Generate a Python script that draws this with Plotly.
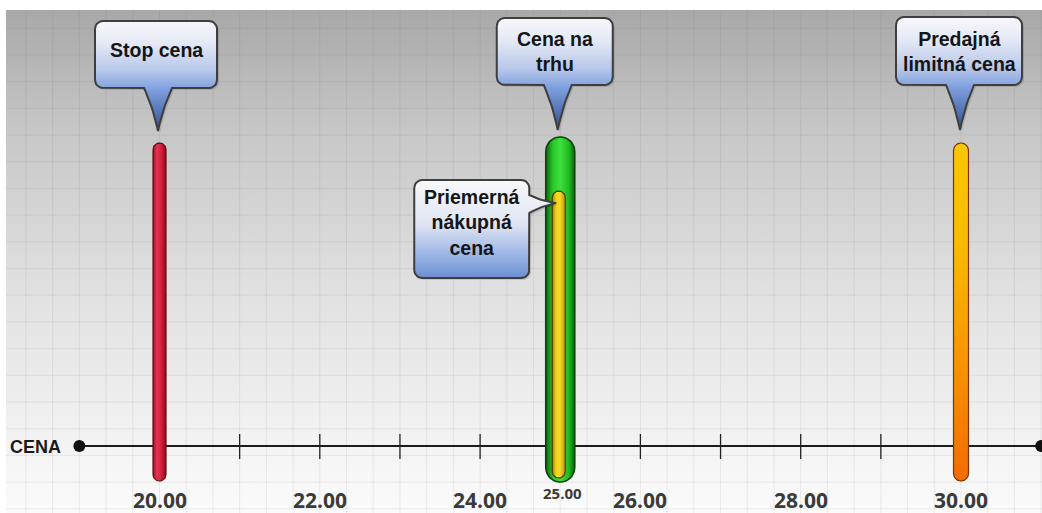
import numpy as np
import plotly.graph_objects as go

# ---------------- data ----------------
axis_title = "CENA"
axis_start, axis_end = 19.0, 31.0
tick_values = [20, 21, 22, 23, 24, 25, 26, 27, 28, 29, 30]
label_values = [20, 22, 24, 26, 28, 30]
label_texts = ["20.00", "22.00", "24.00", "26.00", "28.00", "30.00"]
market_label_value = 25.0
market_label_text = "25.00"

stop_price = 20.0
market_price = 25.0
avg_buy_price = 25.0
sell_limit_price = 30.0

callout_texts = ["Stop cena", "Cena na<br>trhu", "Predajná<br>limitná cena",
                 "Priemerná<br>nákupná<br>cena"]
callout_values = [stop_price, market_price, sell_limit_price, avg_buy_price]

# ---------------- geometry helpers (pixel space) ----------------
W, H = 1042, 513
PPU = 80.15                       # pixels per price unit
X0 = 20 - 159.5 / PPU             # price at left edge of the figure
X1 = X0 + W / PPU


def uy(py):
    return H - py


def xs(value, offsets):
    return [value + o / PPU for o in offsets]


def pill(value, half_w, top, bottom, n=24):
    r = half_w
    tc, bc = top + r, bottom - r
    ox, py = [], []
    for t in np.linspace(np.pi, 0, n):
        ox.append(r * np.cos(t)); py.append(tc - r * np.sin(t))
    for t in np.linspace(0, -np.pi, n):
        ox.append(r * np.cos(t)); py.append(bc - r * np.sin(t))
    ox.append(ox[0]); py.append(py[0])
    return xs(value, ox), [uy(p) for p in py]


def arc(cx, cy, r, a0, a1, n=8):
    pts = []
    for t in np.linspace(a0, a1, n):
        pts.append((cx + r * np.cos(t), cy - r * np.sin(t)))
    return pts


def bez(p0, c, p1, n=14):
    pts = []
    for t in np.linspace(0, 1, n):
        x = (1 - t) ** 2 * p0[0] + 2 * (1 - t) * t * c[0] + t ** 2 * p1[0]
        y = (1 - t) ** 2 * p0[1] + 2 * (1 - t) * t * c[1] + t ** 2 * p1[1]
        pts.append((x, y))
    return pts


def callout_down(x0, x1, y0, y1, tipx, tipy, half_base=14, r=8):
    pts = []
    pts += arc(x0 + r, y0 + r, r, np.pi, np.pi / 2)
    pts += arc(x1 - r, y0 + r, r, np.pi / 2, 0)
    pts += arc(x1 - r, y1 - r, r, 0, -np.pi / 2)
    bx = tipx
    depth = tipy - y1
    pts += bez((bx + half_base, y1), (tipx + 5, y1 + 0.45 * depth), (tipx, tipy))
    pts += bez((tipx, tipy), (tipx - 5, y1 + 0.45 * depth), (bx - half_base, y1))
    pts += arc(x0 + r, y1 - r, r, -np.pi / 2, -np.pi)
    pts.append(pts[0])
    return pts


def callout_right(x0, x1, y0, y1, tipx, tipy, b0, b1, r=8):
    pts = []
    pts += arc(x0 + r, y0 + r, r, np.pi, np.pi / 2)
    pts += arc(x1 - r, y0 + r, r, np.pi / 2, 0)
    pts += bez((x1, b0), (x1 + 12, tipy - 2), (tipx, tipy))
    pts += bez((tipx, tipy), (x1 + 12, tipy + 3), (x1, b1))
    pts += arc(x1 - r, y1 - r, r, 0, -np.pi / 2)
    pts += arc(x0 + r, y1 - r, r, -np.pi / 2, -np.pi)
    pts.append(pts[0])
    return pts


fig = go.Figure()

# ---------------- background ----------------
fig.add_trace(go.Scatter(
    x=[X0 + 6 / PPU, X1, X1, X0 + 6 / PPU, X0 + 6 / PPU],
    y=[uy(10), uy(10), 0, 0, uy(10)],
    mode="lines", line=dict(width=0), fill="toself",
    fillgradient=dict(type="vertical", colorscale=[
        [0, "#fbfbfb"], [0.15, "#f2f2f2"], [0.45, "#e0e0e0"],
        [0.75, "#c8c8c8"], [1, "#a8a8a8"]]),
    hoverinfo="skip"))

# grid
gx, gy = [], []
for k in np.arange(-18, 40):
    v = 20 + k / 3
    if X0 + 6 / PPU < v < X1:
        gx += [v, v, None]; gy += [uy(10), 0, None]
for p in np.arange(1.5 + 26.7, H, 26.7):
    gx += [X0 + 6 / PPU, X1, None]; gy += [uy(p), uy(p), None]
fig.add_trace(go.Scatter(x=gx, y=gy, mode="lines",
                         line=dict(color="rgba(100,100,100,0.10)", width=1),
                         hoverinfo="skip"))

# ---------------- axis ----------------
fig.add_trace(go.Scatter(x=[axis_start, axis_end], y=[uy(446), uy(446)],
                         mode="lines+markers",
                         line=dict(color="#1c1c1c", width=2),
                         marker=dict(color="#111111", size=12),
                         hoverinfo="skip"))
tx, ty = [], []
for v in tick_values:
    tx += [v, v, None]; ty += [uy(434), uy(459), None]
fig.add_trace(go.Scatter(x=tx, y=ty, mode="lines",
                         line=dict(color="#222222", width=1.3), hoverinfo="skip"))

# ---------------- bars ----------------
def add_pill(value, half_w, top, bottom, grad, line_color, lw=1.2):
    x, y = pill(value, half_w, top, bottom)
    fig.add_trace(go.Scatter(x=x, y=y, mode="lines", fill="toself",
                             line=dict(color=line_color, width=lw),
                             fillgradient=grad, hoverinfo="skip"))


add_pill(stop_price, 6.5, 143, 481,
         dict(type="horizontal", colorscale=[[0, "#9a1126"], [0.3, "#e53452"],
                                             [0.6, "#d8203f"], [1, "#8a0e20"]]),
         "#6a0a18")
add_pill(market_price, 14.5, 137, 482,
         dict(type="horizontal", colorscale=[[0, "#0b650b"], [0.25, "#27c827"],
                                             [0.5, "#3ee13e"], [0.8, "#20b820"],
                                             [1, "#0b650b"]]),
         "#0a420a", 1.6)
add_pill(avg_buy_price - 1.5 / PPU, 6.5, 191, 478,
         dict(type="horizontal", colorscale=[[0, "#a08600"], [0.3, "#f3d21a"],
                                             [0.6, "#f7da2c"], [1, "#b89400"]]),
         "#4d3f00")
add_pill(sell_limit_price, 7.5, 143, 481,
         dict(type="vertical", colorscale=[[0, "#f36b00"], [0.35, "#f79400"],
                                           [0.7, "#f7bb00"], [1, "#f8c800"]]),
         "#7a3300")

# ---------------- callouts ----------------
down_grad = dict(type="vertical", colorscale=[
    [0, "#34508f"], [0.38, "#7fa0e0"], [0.55, "#b8c8ea"],
    [0.8, "#e4e9f5"], [1, "#f7f8fb"]])
side_grad = dict(type="vertical", colorscale=[
    [0, "#6b8ed2"], [0.25, "#9fb7e6"], [0.55, "#dfe5f3"], [1, "#f7f8fb"]])

# (box centre offset px, box width px, top, bottom, tip offset px, tip y)
down_specs = [(-3.5, 122, 21, 88, -1.5, 131),
              (-5.5, 116, 18, 85, -2.5, 130),
              (-2.0, 126, 17, 85, -1.0, 130)]
text_y = [50, 51, 51]

for i, (bo, bw, t, b, to, tpy) in enumerate(down_specs):
    v = callout_values[i]
    pts = callout_down(bo - bw / 2, bo + bw / 2, t, b, to, tpy)
    ox = [p[0] for p in pts]; py = [p[1] for p in pts]
    fig.add_trace(go.Scatter(x=xs(v, [o + 2 for o in ox]), y=[uy(p + 2) for p in py],
                             mode="lines", fill="toself", line=dict(width=0),
                             fillcolor="rgba(0,0,0,0.12)", hoverinfo="skip"))
    fig.add_trace(go.Scatter(x=xs(v, ox), y=[uy(p) for p in py], mode="lines",
                             fill="toself", line=dict(color="#3e3e3e", width=2),
                             fillgradient=down_grad, hoverinfo="skip"))
    fig.add_annotation(x=v + bo / PPU, y=uy(text_y[i]), text=callout_texts[i],
                       showarrow=False, xanchor="center", yanchor="middle",
                       font=dict(family="Liberation Sans", size=19.5,
                                 color="#151515", weight="bold"))

# side callout for average buy price
v = callout_values[3]
pts = callout_right(-146, -31, 180, 278, -4, 203, 195, 213)
ox = [p[0] for p in pts]; py = [p[1] for p in pts]
fig.add_trace(go.Scatter(x=xs(v, [o + 2 for o in ox]), y=[uy(p + 2) for p in py],
                         mode="lines", fill="toself", line=dict(width=0),
                         fillcolor="rgba(0,0,0,0.12)", hoverinfo="skip"))
fig.add_trace(go.Scatter(x=xs(v, ox), y=[uy(p) for p in py], mode="lines",
                         fill="toself", line=dict(color="#3e3e3e", width=2),
                         fillgradient=side_grad, hoverinfo="skip"))
fig.add_annotation(x=v - 88.5 / PPU, y=uy(222), text=callout_texts[3],
                   showarrow=False, xanchor="center", yanchor="middle",
                   font=dict(family="Liberation Sans", size=19.5,
                             color="#151515", weight="bold"))

# ---------------- labels ----------------
for v, s in zip(label_values, label_texts):
    fig.add_annotation(x=v, y=uy(500), text=s, showarrow=False,
                       xanchor="center", yanchor="middle",
                       font=dict(family="Open Sans", size=21, color="#3a3a3a",
                                 weight="bold"))
fig.add_annotation(x=market_label_value + 2.5 / PPU, y=uy(493), text=market_label_text,
                   showarrow=False, xanchor="center", yanchor="middle",
                   font=dict(family="Open Sans", size=15, color="#3a3a3a",
                             weight="bold"))
fig.add_annotation(x=axis_start - 16 / PPU, y=uy(447), text=axis_title, showarrow=False,
                   xanchor="right", yanchor="middle",
                   font=dict(family="Liberation Sans", size=18, color="#1a1a1a",
                             weight="bold"))

fig.update_layout(
    width=W, height=H, margin=dict(l=0, r=0, t=0, b=0),
    paper_bgcolor="white", plot_bgcolor="white", showlegend=False,
    hovermode=False,
    xaxis=dict(range=[X0, X1], visible=False, fixedrange=True),
    yaxis=dict(range=[0, H], visible=False, fixedrange=True),
)

fig.write_html("out.html", config={"displayModeBar": False},
               post_script="document.body.style.margin='0';"
                           "document.body.style.overflow='hidden';")
